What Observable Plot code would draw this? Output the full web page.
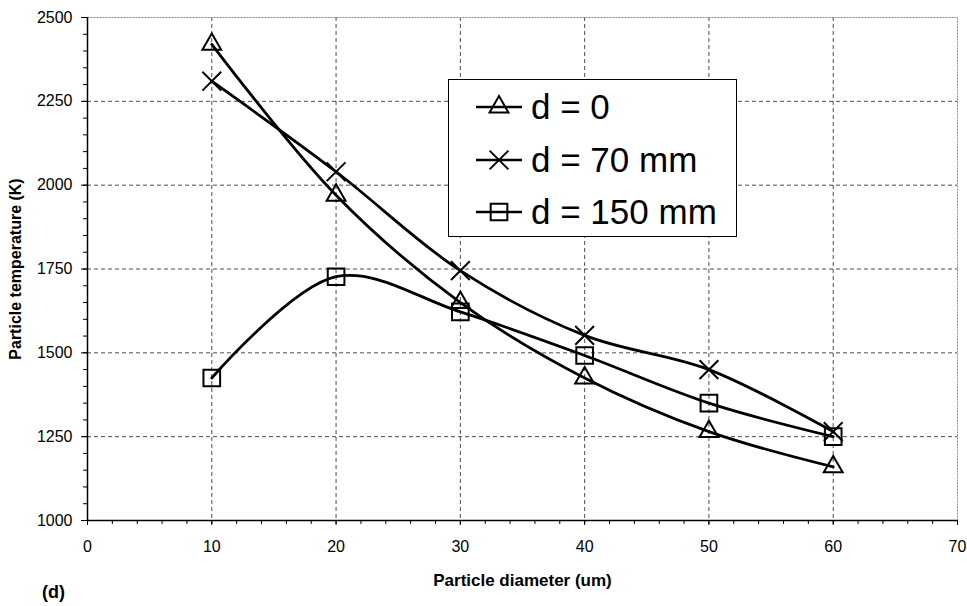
<!DOCTYPE html>
<html>
<head>
<meta charset="utf-8">
<script src="https://cdn.jsdelivr.net/npm/d3@7"></script>
<script src="https://cdn.jsdelivr.net/npm/@observablehq/plot@0.6"></script>
<style>
  html, body { margin: 0; padding: 0; background: #fff; }
  #wrap { position: relative; width: 967px; height: 606px; font-family: Arial, "Liberation Sans", sans-serif; }
  #wrap svg { font-family: Arial, "Liberation Sans", sans-serif; }
  g[aria-label="y-axis label"] text { font-weight: bold; font-size: 16px; }
  g[aria-label="x-axis label"] text { font-weight: bold; font-size: 17px; }
  g[aria-label="x-axis tick label"] text, g[aria-label="y-axis tick label"] text { font-size: 16px; }
  #legend { position: absolute; left: 448px; top: 79px; width: 289px; height: 158px; border: 1.5px solid #000; background: #fff; box-sizing: border-box; }
  .lrow { position: absolute; left: 0; height: 40px; display: flex; align-items: center; }
  .lrow svg { display: block; }
  .lrow span { font-size: 35px; color: #000; margin-left: 8px; white-space: pre; }
  #tag { position: absolute; left: 42px; top: 582px; font-weight: bold; font-size: 18px; }
</style>
</head>
<body>
<div id="wrap"></div>
<script>
// ---- data ----
const diameters = [10, 20, 30, 40, 50, 60];
const tempD0   = [2420, 1970, 1650, 1425, 1265, 1160];
const tempD70  = [2310, 2040, 1745, 1552, 1450, 1265];
const tempD150 = [1425, 1727, 1622, 1492, 1350, 1250];
const seriesNames = ["d = 0", "d = 70 mm", "d = 150 mm"];
const seriesSymbols = ["triangle", "times", "square"];
const xTicks = [0, 10, 20, 30, 40, 50, 60, 70];
const yTicks = [1000, 1250, 1500, 1750, 2000, 2250, 2500];
const xMinor = d3.range(0, 70.001, 2);
const yMinor = d3.range(1000, 2500.001, 50);
const xLabel = "Particle diameter (um)";
const yLabel = "Particle temperature (K)";
const panelTag = "(d)";

const toRows = (vals) => diameters.map((x, i) => ({x, y: vals[i]}));
const series = [tempD0, tempD70, tempD150].map(toRows);
const symbolR = {triangle: 7, times: 8.6, square: 9.4};

const marks = [
  Plot.gridX(xTicks.slice(1, -1), {stroke: "#000", strokeOpacity: 0.7, strokeDasharray: "4,3"}),
  Plot.gridY(yTicks.slice(1, -1), {stroke: "#000", strokeOpacity: 0.7, strokeDasharray: "4,3"}),
  Plot.frame({stroke: "#888", strokeDasharray: "2,1"}),
  Plot.axisX(xMinor, {tickSize: 4, tickFormat: () => "", label: null}),
  Plot.axisY(yMinor, {tickSize: 4, tickFormat: () => "", label: null}),
  Plot.axisX(xTicks, {tickSize: 5, tickPadding: 15, tickFormat: d3.format("d"), label: xLabel, labelAnchor: "center", labelArrow: "none", labelOffset: 65}),
  Plot.axisY(yTicks, {tickSize: 6, tickPadding: 9, tickFormat: d3.format("d"), label: yLabel, labelAnchor: "center", labelArrow: "none", labelOffset: 78}),
  Plot.ruleX([0], {stroke: "#000", strokeWidth: 1.5}),
  Plot.ruleY([1000], {stroke: "#000", strokeWidth: 1.5})
];
series.forEach((rows) => {
  marks.push(Plot.line(rows, {x: "x", y: "y", curve: "catmull-rom", stroke: "#000", strokeWidth: 2.8}));
});
series.forEach((rows, i) => {
  const s = seriesSymbols[i];
  marks.push(Plot.dot(rows, {x: "x", y: "y", symbol: s, r: symbolR[s], fill: "none", stroke: "#000", strokeWidth: 2}));
});

const chart = Plot.plot({
  width: 967,
  height: 606,
  marginLeft: 87,
  marginRight: 10,
  marginTop: 17,
  marginBottom: 86,
  style: {fontFamily: 'Arial, "Liberation Sans", sans-serif', color: "#000", background: "#fff"},
  x: {domain: [0, 70]},
  y: {domain: [1000, 2500]},
  marks
});
const wrap = document.getElementById("wrap");
wrap.appendChild(chart);

// legend
const legend = document.createElement("div");
legend.id = "legend";
const rowTops = [7, 60, 112];
seriesNames.forEach((name, i) => {
  const row = document.createElement("div");
  row.className = "lrow";
  row.style.top = rowTops[i] + "px";
  row.style.left = "26px";
  const svg = d3.create("svg").attr("width", 48).attr("height", 40);
  svg.append("line").attr("x1", 1).attr("x2", 47).attr("y1", 20).attr("y2", 20).attr("stroke", "#000").attr("stroke-width", 2.6);
  const s = seriesSymbols[i];
  const sym = {triangle: d3.symbolTriangle, times: d3.symbolTimes, square: d3.symbolSquare}[s];
  svg.append("path").attr("transform", "translate(24,20)").attr("d", d3.symbol(sym, Math.PI * symbolR[s] ** 2)()).attr("fill", "none").attr("stroke", "#000").attr("stroke-width", 2);
  row.appendChild(svg.node());
  const t = document.createElement("span");
  t.textContent = name;
  row.appendChild(t);
  legend.appendChild(row);
});
wrap.appendChild(legend);

const tag = document.createElement("div");
tag.id = "tag";
tag.textContent = panelTag;
wrap.appendChild(tag);
</script>
</body>
</html>
